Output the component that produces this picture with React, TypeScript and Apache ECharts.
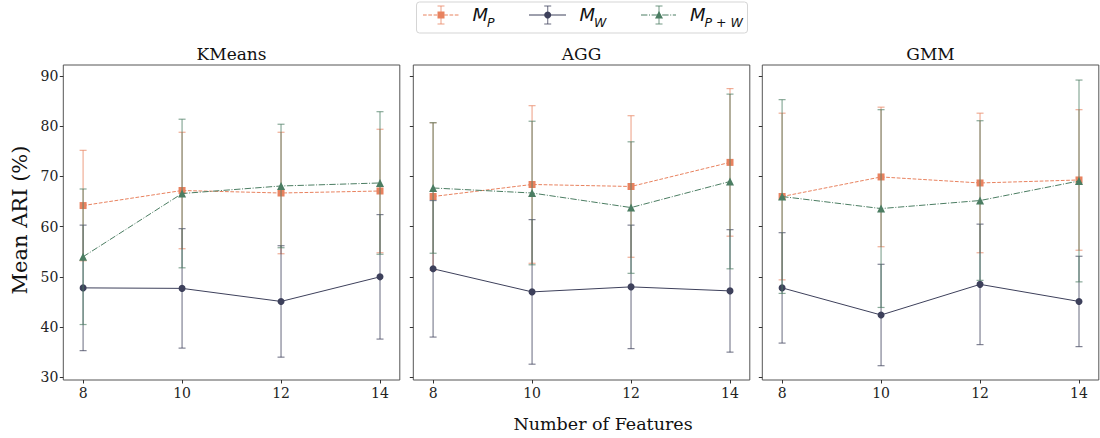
import React, { useEffect, useRef } from "react";
import * as echarts from "echarts";

const features = [8, 10, 12, 14];
const panels = ["KMeans", "AGG", "GMM"];
const yTicks = [30, 40, 50, 60, 70, 80, 90];

// KMeans
const kmMP = [64.2, 67.2, 66.7, 67.1];
const kmMPStd = [11.0, 11.6, 12.1, 12.3];
const kmMW = [47.8, 47.7, 45.1, 50.0];
const kmMWStd = [12.5, 11.9, 11.1, 12.4];
const kmMPW = [54.0, 66.6, 68.1, 68.7];
const kmMPWStd = [13.5, 14.8, 12.3, 14.2];
// AGG
const agMP = [66.0, 68.4, 68.0, 72.8];
const agMPStd = [14.7, 15.7, 14.1, 14.7];
const agMW = [51.6, 47.0, 48.0, 47.2];
const agMWStd = [13.6, 14.4, 12.3, 12.2];
const agMPW = [67.7, 66.7, 63.8, 69.0];
const agMPWStd = [13.0, 14.3, 13.1, 17.4];
// GMM
const gmMP = [66.0, 69.9, 68.7, 69.3];
const gmMPStd = [16.6, 13.9, 13.9, 14.0];
const gmMW = [47.8, 42.4, 48.5, 45.1];
const gmMWStd = [11.0, 10.1, 12.0, 9.0];
const gmMPW = [66.0, 63.6, 65.2, 69.1];
const gmMPWStd = [19.3, 19.7, 15.9, 20.1];

const C_P = "#e8825f";
const C_W = "#3d405b";
const C_PW = "#4b7d62";

const methodDefs = [
  { key: "P", color: C_P, symbol: "rect", size: 7, dash: [3.7, 1.6] as any, sub: "P" },
  { key: "W", color: C_W, symbol: "circle", size: 7, dash: "solid" as any, sub: "W" },
  { key: "PW", color: C_PW, symbol: "triangle", size: 8, dash: [6.4, 1.6, 1, 1.6] as any, sub: "P + W" },
];

const panelData = [
  [[kmMP, kmMPStd], [kmMW, kmMWStd], [kmMPW, kmMPWStd]],
  [[agMP, agMPStd], [agMW, agMWStd], [agMPW, agMPWStd]],
  [[gmMP, gmMPStd], [gmMW, gmMWStd], [gmMPW, gmMPWStd]],
];

const SERIF = "DejaVu Serif";
const gridLefts = [63.3, 413.3, 762.3];
const gridW = 336.5;
const gridTop = 65;
const gridH = 315;

export default function App() {
  const ref = useRef<HTMLDivElement>(null);
  useEffect(() => {
    if (!ref.current) return;
    const chart = echarts.init(ref.current, undefined, { renderer: "svg" });

    const grids = gridLefts.map((l) => ({
      left: l,
      top: gridTop,
      width: gridW,
      height: gridH,
      show: true,
      borderColor: "#555",
      borderWidth: 1,
      backgroundColor: "transparent",
    }));

    const xAxes = panels.map((_, i) => ({
      type: "value",
      gridIndex: i,
      min: 7.6,
      max: 14.4,
      axisLine: { show: false },
      splitLine: { show: false },
      axisTick: { show: true, length: 3.5, lineStyle: { color: "#333" }, customValues: features },
      axisLabel: {
        show: true,
        customValues: features,
        fontFamily: SERIF,
        fontSize: 14,
        color: "#222",
        margin: 6,
      },
    }));

    const yAxes = panels.map((_, i) => ({
      type: "value",
      gridIndex: i,
      min: 29.45,
      max: 92.2,
      axisLine: { show: false },
      splitLine: { show: false },
      axisTick: { show: true, length: 3.5, lineStyle: { color: "#333" }, customValues: yTicks },
      axisLabel: {
        show: i === 0,
        customValues: yTicks,
        fontFamily: SERIF,
        fontSize: 14,
        color: "#222",
        margin: 5,
      },
    }));

    const series: any[] = [];
    panelData.forEach((pd, pi) => {
      pd.forEach(([means, stds], mi) => {
        const m = methodDefs[mi];
        series.push({
          type: "custom",
          xAxisIndex: pi,
          yAxisIndex: pi,
          z: 2 + mi * 2,
          silent: true,
          data: features.map((f, j) => [f, means[j] - stds[j], means[j] + stds[j]]),
          encode: { x: 0, y: [1, 2] },
          renderItem: (params: any, api: any) => {
            const x = api.value(0);
            const lo = api.coord([x, api.value(1)]);
            const hi = api.coord([x, api.value(2)]);
            const st = { stroke: m.color, lineWidth: 1.2, opacity: 0.65 };
            return {
              type: "group",
              children: [
                { type: "line", shape: { x1: lo[0], y1: lo[1], x2: hi[0], y2: hi[1] }, style: st },
                { type: "line", shape: { x1: lo[0] - 3.5, y1: lo[1], x2: lo[0] + 3.5, y2: lo[1] }, style: st },
                { type: "line", shape: { x1: hi[0] - 3.5, y1: hi[1], x2: hi[0] + 3.5, y2: hi[1] }, style: st },
              ],
            };
          },
        });
        series.push({
          type: "line",
          xAxisIndex: pi,
          yAxisIndex: pi,
          z: 3 + mi * 2,
          data: features.map((f, j) => [f, means[j]]),
          symbol: m.symbol,
          symbolSize: m.size,
          showSymbol: true,
          itemStyle: { color: m.color, opacity: 1 },
          lineStyle: { color: m.color, width: 1, type: m.dash },
        });
      });
    });

    const legendItems = [
      { x0: 423, x1: 459, mx: 441, tx: 472.5 },
      { x0: 529, x1: 566, mx: 547.7, tx: 579.5 },
      { x0: 641, x1: 676, mx: 659, tx: 690 },
    ];
    const legendGraphics: any[] = [
      {
        type: "rect",
        shape: { x: 416.5, y: 2, width: 331, height: 31, r: 3 },
        style: { fill: "#fff", stroke: "#d5d5d5", lineWidth: 1 },
        z: 10,
      },
    ];
    legendItems.forEach((it, i) => {
      const m = methodDefs[i];
      const ly = 15;
      const dashArr = Array.isArray(m.dash) ? m.dash : null;
      legendGraphics.push({
        type: "line",
        shape: { x1: it.x0, y1: ly, x2: it.x1, y2: ly },
        style: { stroke: m.color, lineWidth: 1, lineDash: dashArr },
        z: 11,
      });
      const st = { stroke: m.color, lineWidth: 1.2, opacity: 0.65 };
      legendGraphics.push({ type: "line", shape: { x1: it.mx, y1: 6, x2: it.mx, y2: 24 }, style: st, z: 11 });
      legendGraphics.push({ type: "line", shape: { x1: it.mx - 3.5, y1: 6, x2: it.mx + 3.5, y2: 6 }, style: st, z: 11 });
      legendGraphics.push({ type: "line", shape: { x1: it.mx - 3.5, y1: 24, x2: it.mx + 3.5, y2: 24 }, style: st, z: 11 });
      if (m.symbol === "rect") {
        legendGraphics.push({ type: "rect", shape: { x: it.mx - 3.5, y: ly - 3.5, width: 7, height: 7 }, style: { fill: m.color }, z: 12 });
      } else if (m.symbol === "circle") {
        legendGraphics.push({ type: "circle", shape: { cx: it.mx, cy: ly, r: 3.5 }, style: { fill: m.color }, z: 12 });
      } else {
        legendGraphics.push({
          type: "polygon",
          shape: { points: [[it.mx, ly - 4], [it.mx - 4, ly + 3.5], [it.mx + 4, ly + 3.5]] },
          style: { fill: m.color },
          z: 12,
        });
      }
      legendGraphics.push({
        type: "text",
        x: it.tx,
        y: 23,
        style: { text: "M", fontFamily: "DejaVu Sans", fontStyle: "italic", fontSize: 18, fill: "#111", verticalAlign: "bottom" },
        z: 12,
      });
      legendGraphics.push({
        type: "text",
        x: it.tx + 14.5,
        y: 28.5,
        style: { text: m.sub, fontFamily: "DejaVu Sans", fontStyle: "italic", fontSize: 12.5, fill: "#111", verticalAlign: "bottom" },
        z: 12,
      });
    });

    const titleGraphics = panels.map((p, i) => ({
      type: "text",
      x: gridLefts[i] + gridW / 2,
      y: 53.5,
      style: { text: p, fontFamily: SERIF, fontSize: 17, fill: "#111", align: "center", verticalAlign: "middle" },
    }));

    const option: any = {
      animation: false,
      grid: grids,
      xAxis: xAxes,
      yAxis: yAxes,
      series,
      graphic: [
        ...legendGraphics,
        ...titleGraphics,
        {
          type: "text",
          x: 603,
          y: 424,
          style: { text: "Number of Features", fontFamily: SERIF, fontSize: 17.5, fill: "#111", align: "center", verticalAlign: "middle" },
        },
        {
          type: "text",
          x: 20,
          y: 220,
          rotation: Math.PI / 2,
          style: { text: "Mean ARI (%)", fontFamily: SERIF, fontSize: 21, fill: "#111", align: "center", verticalAlign: "middle" },
        },
      ],
    };
    chart.setOption(option);
    return () => chart.dispose();
  }, []);

  return <div ref={ref} style={{ width: 1100, height: 438, position: "absolute", left: 0, top: 0 }} />;
}
